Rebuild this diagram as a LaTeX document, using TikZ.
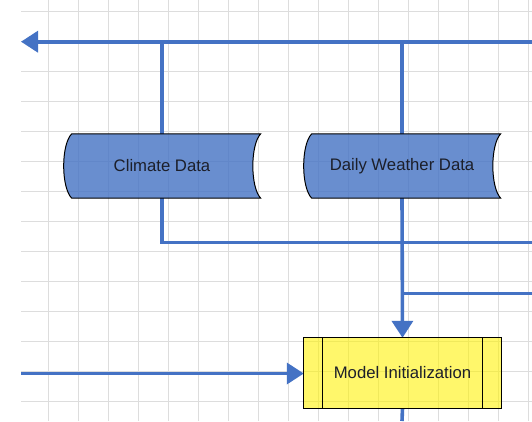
\documentclass[tikz,border=0pt]{standalone}
\usepackage{fontspec}
\setmainfont{Liberation Sans}
\usetikzlibrary{arrows.meta}
\definecolor{flowblue}{HTML}{4472C4}
\definecolor{gridgray}{HTML}{DDDDDD}
\definecolor{labelink}{HTML}{1C1F2A}
\tikzset{
  gridline/.style={draw=gridgray, line width=1.4pt},
  flow/.style={draw=flowblue, line width=3.6pt},
  flowarrow/.style={flow, -{Triangle[length=17pt,width=21pt]}},
  storebody/.style={fill=flowblue, fill opacity=0.8, draw=black, draw opacity=1, line width=1pt},
  procbody/.style={fill=yellow, fill opacity=0.58, draw=black, draw opacity=1, line width=1pt},
  label/.style={font=\fontsize{16.7}{18}\selectfont, text=labelink, inner sep=0pt},
  holder/.style={minimum width=197pt, inner sep=0pt},
}
\begin{document}
\begin{tikzpicture}[x=1pt, y=-1pt]
  \useasboundingbox (0,0) rectangle (532,421);
  \fill[white] (0,0) rectangle (532,421);

  % background grid
  \foreach \gx in {48.3,78.3,...,530} \draw[gridline] (\gx,0) -- (\gx,421);
  \foreach \gy in {11.7,41.7,...,410} \draw[gridline] (21,\gy) -- (532,\gy);

  % placeholders for the three blocks
  \node[holder, minimum height=64pt] (climate) at (162,166) {};
  \node[holder, minimum height=64pt] (weather) at (402,166) {};
  \node[holder, minimum height=70pt] (init) at (402.5,373) {};

  % free ends of the connectors
  \coordinate (feedL) at (21,41.7);
  \coordinate (feedR) at (532,41.7);
  \coordinate (cTap) at (162,41.7);
  \coordinate (wTap) at (402,41.7);
  \coordinate (cBend) at (162,242.5);
  \coordinate (cOut) at (532,242.5);
  \coordinate (wJoin) at (402,293.3);
  \coordinate (wOut) at (532,293.3);
  \coordinate (inL) at (21,373.5);
  \coordinate (downEnd) at (402,421);

  % connectors
  \draw[flowarrow] (feedR) -- (feedL);
  \draw[flow] (cTap) -- (climate.north);
  \draw[flow] (wTap) -- (weather.north);
  \draw[flow] (climate.south) -- (cBend) -- (cOut);
  \draw[flowarrow] (weather.south) -- (init.north);
  \draw[flow] (wJoin) -- (wOut);
  \draw[flowarrow] (inL) -- (inL -| init.west);
  \draw[flow] (init.south) -- (downEnd);

  % stored-data shapes
  \foreach \n in {climate, weather} {
    \draw[storebody]
      ([xshift=8.4pt]\n.north west) -- (\n.north east)
      .. controls ([xshift=-10.5pt,yshift=-11pt]\n.north east)
         and ([xshift=-10.5pt,yshift=11pt]\n.south east) .. (\n.south east)
      -- ([xshift=8.4pt]\n.south west)
      .. controls ([xshift=-2.3pt,yshift=11pt]\n.south west)
         and ([xshift=-2.3pt,yshift=-11pt]\n.north west) .. cycle;
  }

  % predefined process box
  \draw[procbody] (init.north west) rectangle (init.south east);
  \draw[line width=1pt] ([xshift=18.5pt]init.north west) -- ([xshift=18.5pt]init.south west);
  \draw[line width=1pt] ([xshift=-18.5pt]init.north east) -- ([xshift=-18.5pt]init.south east);

  % labels
  \node[label] (climateText) at (climate.center) {Climate Data};
  \node[label] (weatherText) at (weather.center) {Daily Weather Data};
  \node[label] (initText) at (init.center) {Model Initialization};
\end{tikzpicture}
\end{document}
